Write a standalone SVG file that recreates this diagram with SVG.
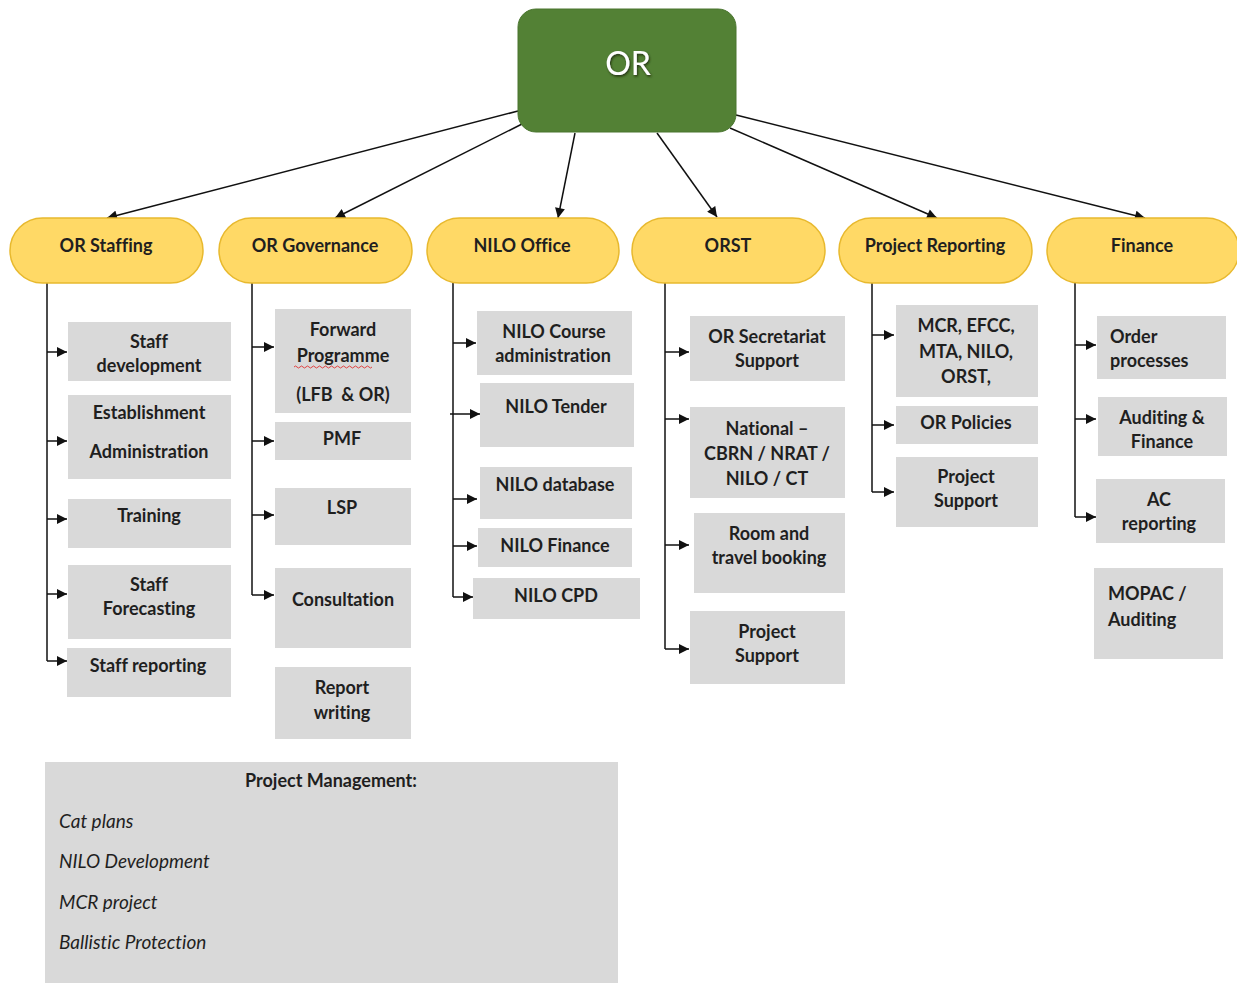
<svg xmlns="http://www.w3.org/2000/svg" width="1237" height="983" viewBox="0 0 1237 983">
<style>
.pill{fill:#FFD966;stroke:#E8B92E;stroke-width:1.5}
.box{fill:#D9D9D9}
.t{font-family:Lato,"Liberation Sans",sans-serif;font-weight:bold;font-size:18px;fill:#1f1f1f;text-anchor:middle;font-variant-ligatures:none}
.tl{text-anchor:start}
.it{font-family:Lato,"Liberation Sans",sans-serif;font-style:italic;font-size:19px;fill:#1f1f1f;font-variant-ligatures:none}
.ln{stroke:#111;stroke-width:1.5;fill:none}
.ar{stroke:#111;stroke-width:1.5;fill:none;marker-end:url(#ah)}
</style>
<defs>
<marker id="ah" viewBox="0 0 10 10" refX="10" refY="5" markerUnits="userSpaceOnUse" markerWidth="11" markerHeight="10" orient="auto">
<path d="M0,0 L10,5 L0,10 z" fill="#111"/>
</marker>
<filter id="sh" x="-20%" y="-20%" width="140%" height="140%">
<feDropShadow dx="1" dy="1.5" stdDeviation="1" flood-color="#1a2a10" flood-opacity="0.9"/>
</filter>
</defs>
<rect width="1237" height="983" fill="#ffffff"/>

<g id="connectors">
<line class="ar" x1="518" y1="111" x2="107" y2="218"/>
<line class="ar" x1="522" y1="124" x2="335" y2="218"/>
<line class="ar" x1="575" y1="133" x2="558" y2="218"/>
<line class="ar" x1="657" y1="133" x2="717" y2="217"/>
<line class="ar" x1="730" y1="128" x2="937" y2="218"/>
<line class="ar" x1="736" y1="115" x2="1145" y2="218"/>

<path class="ln" d="M47,283 V661"/>
<line class="ar" x1="47" y1="352" x2="67" y2="352"/>
<line class="ar" x1="47" y1="441" x2="67" y2="441"/>
<line class="ar" x1="47" y1="519" x2="67" y2="519"/>
<line class="ar" x1="47" y1="594" x2="67" y2="594"/>
<line class="ar" x1="47" y1="661" x2="67" y2="661"/>

<path class="ln" d="M252,283 V595"/>
<line class="ar" x1="252" y1="347" x2="274" y2="347"/>
<line class="ar" x1="252" y1="441" x2="274" y2="441"/>
<line class="ar" x1="252" y1="515" x2="274" y2="515"/>
<line class="ar" x1="252" y1="595" x2="274" y2="595"/>

<path class="ln" d="M453,283 V597"/>
<line class="ar" x1="453" y1="343" x2="476" y2="343"/>
<line class="ar" x1="450" y1="414" x2="480" y2="414"/>
<line class="ar" x1="453" y1="499" x2="477" y2="499"/>
<line class="ar" x1="453" y1="546" x2="477" y2="546"/>
<line class="ar" x1="453" y1="597" x2="473" y2="597"/>

<path class="ln" d="M665,283 V649"/>
<line class="ar" x1="665" y1="352" x2="689" y2="352"/>
<line class="ar" x1="665" y1="419" x2="689" y2="419"/>
<line class="ar" x1="665" y1="545" x2="689" y2="545"/>
<line class="ar" x1="665" y1="649" x2="689" y2="649"/>

<path class="ln" d="M872,283 V492"/>
<line class="ar" x1="872" y1="335" x2="894" y2="335"/>
<line class="ar" x1="872" y1="425" x2="894" y2="425"/>
<line class="ar" x1="872" y1="492" x2="894" y2="492"/>

<path class="ln" d="M1075,283 V517"/>
<line class="ar" x1="1075" y1="345" x2="1096" y2="345"/>
<line class="ar" x1="1075" y1="419" x2="1096" y2="419"/>
<line class="ar" x1="1075" y1="517" x2="1096" y2="517"/>
</g>

<g id="or">
<rect x="518" y="9" width="218" height="123" rx="18" fill="#538135" stroke="#4a752f" stroke-width="1"/>
<text x="628" y="75" font-family="Lato,'Liberation Sans',sans-serif" font-size="32" fill="#ffffff" text-anchor="middle" filter="url(#sh)">OR</text>
</g>

<g id="or-staffing"><rect class="pill" x="10" y="218" width="193" height="65" rx="32.5"/><text class="t" x="106" y="252">OR Staffing</text></g>
<g id="or-governance"><rect class="pill" x="219" y="218" width="193" height="65" rx="32.5"/><text class="t" x="315" y="252">OR Governance</text></g>
<g id="nilo-office"><rect class="pill" x="427" y="218" width="192" height="65" rx="32.5"/><text class="t" x="522" y="252">NILO Office</text></g>
<g id="orst"><rect class="pill" x="632" y="218" width="193" height="65" rx="32.5"/><text class="t" x="728" y="252">ORST</text></g>
<g id="project-reporting"><rect class="pill" x="839" y="218" width="193" height="65" rx="32.5"/><text class="t" x="935" y="252">Project Reporting</text></g>
<g id="finance"><rect class="pill" x="1047" y="218" width="192" height="65" rx="32.5"/><text class="t" x="1142" y="252">Finance</text></g>

<g id="staff-development"><rect class="box" x="68" y="322" width="163" height="59"/><text class="t" x="149" y="348">Staff</text><text class="t" x="149" y="372">development</text></g>
<g id="establishment-administration"><rect class="box" x="68" y="395" width="163" height="84"/><text class="t" x="149" y="419">Establishment</text><text class="t" x="149" y="458">Administration</text></g>
<g id="training"><rect class="box" x="68" y="499" width="163" height="49"/><text class="t" x="149" y="522">Training</text></g>
<g id="staff-forecasting"><rect class="box" x="68" y="565" width="163" height="74"/><text class="t" x="149" y="591">Staff</text><text class="t" x="149" y="615">Forecasting</text></g>
<g id="staff-reporting"><rect class="box" x="67" y="648" width="164" height="49"/><text class="t" x="148" y="672">Staff reporting</text></g>

<g id="forward-programme"><rect class="box" x="275" y="309" width="136" height="104"/><text class="t" x="343" y="336">Forward</text><text class="t" x="343" y="362">Programme</text><path d="M294,367 q1.5,-2 3,0 t3,0 t3,0 t3,0 t3,0 t3,0 t3,0 t3,0 t3,0 t3,0 t3,0 t3,0 t3,0 t3,0 t3,0 t3,0 t3,0 t3,0 t3,0 t3,0 t3,0 t3,0 t3,0 t3,0 t3,0 t3,0" fill="none" stroke="#e03030" stroke-width="0.9"/><text class="t" x="343" y="401" xml:space="preserve">(LFB  &amp; OR)</text></g>
<g id="pmf"><rect class="box" x="275" y="422" width="136" height="38"/><text class="t" x="342" y="445">PMF</text></g>
<g id="lsp"><rect class="box" x="275" y="488" width="136" height="57"/><text class="t" x="342" y="514">LSP</text></g>
<g id="consultation"><rect class="box" x="275" y="568" width="136" height="80"/><text class="t" x="343" y="606">Consultation</text></g>
<g id="report-writing"><rect class="box" x="275" y="667" width="136" height="72"/><text class="t" x="342" y="694">Report</text><text class="t" x="342" y="719">writing</text></g>

<g id="nilo-course"><rect class="box" x="477" y="311" width="155" height="64"/><text class="t" x="554" y="338">NILO Course</text><text class="t" x="553" y="362">administration</text></g>
<g id="nilo-tender"><rect class="box" x="480" y="383" width="154" height="64"/><text class="t" x="556" y="413">NILO Tender</text></g>
<g id="nilo-database"><rect class="box" x="480" y="467" width="152" height="52"/><text class="t" x="555" y="491">NILO database</text></g>
<g id="nilo-finance"><rect class="box" x="478" y="528" width="154" height="39"/><text class="t" x="555" y="552">NILO Finance</text></g>
<g id="nilo-cpd"><rect class="box" x="473" y="578" width="167" height="41"/><text class="t" x="556" y="602">NILO CPD</text></g>

<g id="or-secretariat"><rect class="box" x="690" y="316" width="155" height="65"/><text class="t" x="767" y="343">OR Secretariat</text><text class="t" x="767" y="367">Support</text></g>
<g id="national"><rect class="box" x="690" y="407" width="155" height="91"/><text class="t" x="767" y="435">National –</text><text class="t" x="767" y="460">CBRN / NRAT /</text><text class="t" x="767" y="485">NILO / CT</text></g>
<g id="room-travel"><rect class="box" x="694" y="513" width="151" height="80"/><text class="t" x="769" y="540">Room and</text><text class="t" x="769" y="564">travel booking</text></g>
<g id="orst-project-support"><rect class="box" x="690" y="611" width="155" height="73"/><text class="t" x="767" y="638">Project</text><text class="t" x="767" y="662">Support</text></g>

<g id="mcr-efcc"><rect class="box" x="896" y="305" width="142" height="92"/><text class="t" x="966" y="332">MCR, EFCC,</text><text class="t" x="966" y="358">MTA, NILO,</text><text class="t" x="966" y="383">ORST,</text></g>
<g id="or-policies"><rect class="box" x="896" y="406" width="142" height="38"/><text class="t" x="966" y="429">OR Policies</text></g>
<g id="pr-project-support"><rect class="box" x="896" y="457" width="142" height="70"/><text class="t" x="966" y="483">Project</text><text class="t" x="966" y="507">Support</text></g>

<g id="order-processes"><rect class="box" x="1097" y="316" width="129" height="63"/><text class="t tl" x="1110" y="343">Order</text><text class="t tl" x="1110" y="367">processes</text></g>
<g id="auditing-finance"><rect class="box" x="1098" y="397" width="129" height="59"/><text class="t" x="1162" y="424">Auditing &amp;</text><text class="t" x="1162" y="448">Finance</text></g>
<g id="ac-reporting"><rect class="box" x="1096" y="479" width="129" height="64"/><text class="t" x="1159" y="506">AC</text><text class="t" x="1159" y="530">reporting</text></g>
<g id="mopac-auditing"><rect class="box" x="1094" y="568" width="129" height="91"/><text class="t tl" x="1108" y="600">MOPAC /</text><text class="t tl" x="1108" y="626">Auditing</text></g>

<g id="project-management">
<rect class="box" x="45" y="762" width="573" height="221"/>
<text class="t" x="331" y="787">Project Management:</text>
<text class="it" x="59" y="828">Cat plans</text>
<text class="it" x="59" y="868">NILO Development</text>
<text class="it" x="59" y="909">MCR project</text>
<text class="it" x="59" y="949">Ballistic Protection</text>
</g>
</svg>
